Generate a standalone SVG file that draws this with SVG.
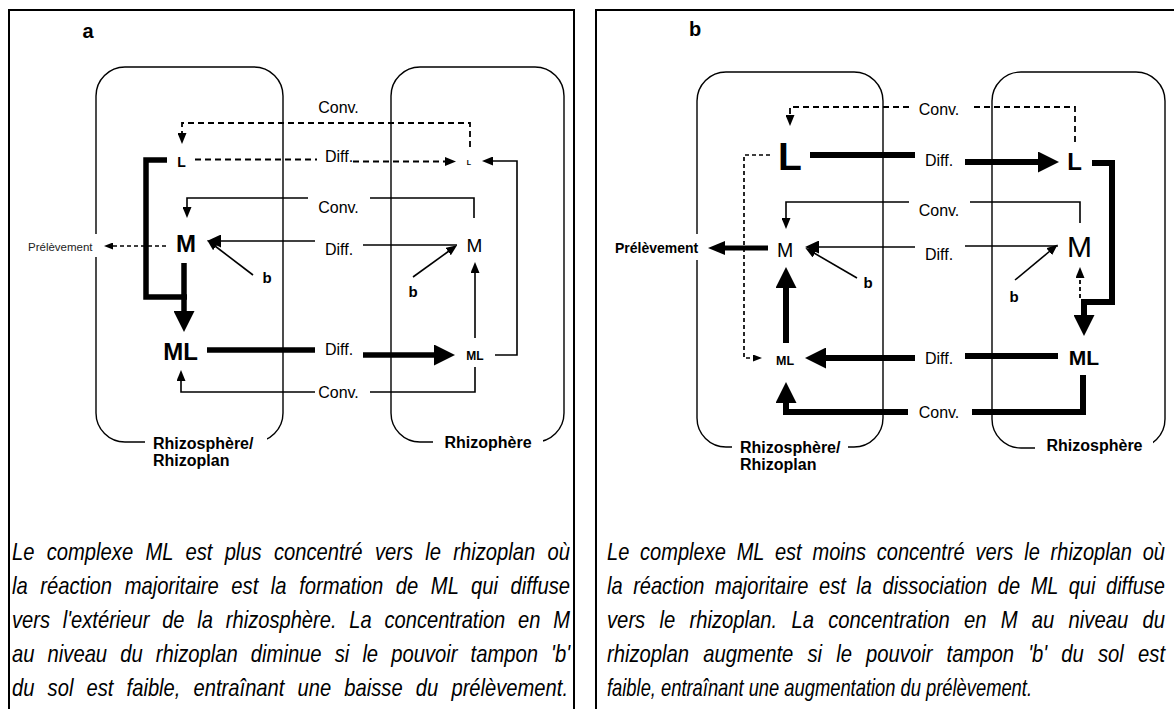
<svg xmlns="http://www.w3.org/2000/svg" width="1174" height="709" viewBox="0 0 1174 709">
<style>
text{font-family:"Liberation Sans",Arial,sans-serif;fill:#000}
.frame{fill:none;stroke:#000;stroke-width:2}
.zone{fill:none;stroke:#000;stroke-width:1.4}
.thin{fill:none;stroke:#000;stroke-width:1.6}
.dash{fill:none;stroke:#000;stroke-width:1.8;stroke-dasharray:6 4}
.dash2{fill:none;stroke:#000;stroke-width:1.7;stroke-dasharray:4 3}
.thick{fill:none;stroke:#000;stroke-width:5.5;stroke-linejoin:miter}
.lbl{font-size:16px}
.zl{font-size:16px;font-weight:bold}
.pl{font-size:20px;font-weight:bold}
.bb{font-size:15px;font-weight:bold}
.body{font-family:"Liberation Sans Narrow","Liberation Sans",Arial,sans-serif;font-style:italic;font-size:24px}
.mask{fill:#fff}
.n{text-anchor:middle}
.nb{text-anchor:middle;font-weight:bold}
</style>
<defs>
<marker id="s" markerUnits="userSpaceOnUse" markerWidth="11" markerHeight="9" refX="1" refY="4.5" orient="auto"><path d="M0,0L11,4.5L0,9z"/></marker>
<marker id="sm" markerUnits="userSpaceOnUse" markerWidth="9" markerHeight="7" refX="1" refY="3.5" orient="auto"><path d="M0,0L9,3.5L0,7z"/></marker>
<marker id="m" markerUnits="userSpaceOnUse" markerWidth="14" markerHeight="13" refX="1" refY="6.5" orient="auto"><path d="M0,0L14,6.5L0,13z"/></marker>
<marker id="p" markerUnits="userSpaceOnUse" markerWidth="17" markerHeight="14" refX="1" refY="7" orient="auto"><path d="M0,0L17,7L0,14z"/></marker>
<marker id="l" markerUnits="userSpaceOnUse" markerWidth="21" markerHeight="21" refX="1" refY="10.5" orient="auto"><path d="M0,0L21,10.5L0,21z"/></marker>
</defs>

<g id="panels">
<rect class="frame" x="9" y="10" width="565" height="720"/>
<rect class="frame" x="596" y="10" width="590" height="720"/>
<text class="pl" x="88" y="38" text-anchor="middle">a</text>
<text class="pl" x="695" y="36" text-anchor="middle">b</text>
</g>

<g id="zone-a-rhizoplan">
<rect class="zone" x="96" y="67" width="187" height="375" rx="29" ry="29"/>
<rect class="mask" x="145" y="434" width="122" height="16"/>
<text class="zl" x="153" y="449">Rhizosphère/</text>
<text class="zl" x="153" y="466">Rhizoplan</text>
</g>
<g id="zone-a-rhizosphere">
<rect class="zone" x="391" y="67" width="173" height="375" rx="29" ry="29"/>
<rect class="mask" x="433" y="434" width="110" height="16"/>
<text class="zl" x="488" y="448" text-anchor="middle">Rhizophère</text>
</g>
<g id="zone-b-rhizoplan">
<rect class="zone" x="697" y="72" width="186" height="375" rx="29" ry="29"/>
<rect class="mask" x="732" y="439" width="116" height="16"/>
<text class="zl" x="740" y="453">Rhizosphère/</text>
<text class="zl" x="740" y="470">Rhizoplan</text>
</g>
<g id="zone-b-rhizosphere">
<rect class="zone" x="992" y="72" width="173" height="376" rx="29" ry="29"/>
<rect class="mask" x="1035" y="440" width="118" height="16"/>
<text class="zl" x="1094.5" y="451" text-anchor="middle">Rhizosphère</text>
</g>

<g id="connectors">
<!-- panel a -->
<path class="dash" d="M470,147V123H182V134" marker-end="url(#s)"/>
<text class="lbl n" x="338.5" y="113">Conv.</text>
<path class="dash" d="M195,159.5H317"/>
<path class="dash" d="M353,161.5H446" marker-end="url(#s)"/>
<text class="lbl n" x="339" y="162">Diff.</text>
<path class="thin" d="M495,355H517V161H492" marker-end="url(#s)"/>
<path class="thin" d="M474,218V198H370"/>
<path class="thin" d="M308,198H187V208" marker-end="url(#s)"/>
<text class="lbl n" x="338.5" y="213">Conv.</text>
<path class="thin" d="M457,245H363"/>
<path class="thin" d="M315,241H220" marker-end="url(#m)"/>
<text class="lbl n" x="339" y="255">Diff.</text>
<path class="thin" d="M253,275L215,246" marker-end="url(#s)"/>
<path class="thin" d="M413,277L449,251" marker-end="url(#s)"/>
<path class="dash2" style="stroke-width:1.4" d="M166,246H112" marker-end="url(#sm)"/>
<rect class="mask" x="24" y="234" width="74" height="23"/>
<text x="28" y="251" style="font-size:11.5px;fill:#222">Prélèvement</text>
<path class="thick" d="M167,160H146V297H187"/>
<path class="thick" d="M184,263V312" marker-end="url(#l)"/>
<path class="thick" d="M207,350H315"/>
<path class="thick" d="M363,355H435" marker-end="url(#l)"/>
<text class="lbl n" x="339" y="355">Diff.</text>
<path class="thin" d="M475,367V392H370"/>
<path class="thin" d="M315,392H181V380" marker-end="url(#s)"/>
<text class="lbl n" x="338.5" y="398">Conv.</text>
<path class="thin" d="M475,338V272" marker-end="url(#s)"/>
<text class="bb n" x="267" y="283">b</text>
<text class="bb n" x="413" y="297">b</text>

<!-- panel b -->
<path class="dash" d="M1075,142V107H970"/>
<path class="dash" d="M909,107H790V116" marker-end="url(#s)"/>
<text class="lbl n" x="939" y="115">Conv.</text>
<path class="thick" style="stroke-width:6" d="M810,155H915"/>
<path class="thick" style="stroke-width:6" d="M965,162H1039" marker-end="url(#l)"/>
<text class="lbl n" x="939" y="166">Diff.</text>
<path class="dash2" d="M770,155H744V358H754" marker-end="url(#sm)"/>
<path class="thick" style="stroke-width:6" d="M1092,163H1112V302H1084V316" marker-end="url(#l)"/>
<path class="dash2" style="stroke-width:1.8" d="M1080,298V277" marker-end="url(#s)"/>
<path class="thin" d="M1080,223V202H970"/>
<path class="thin" d="M909,202H786V219" marker-end="url(#s)"/>
<text class="lbl n" x="939" y="216">Conv.</text>
<path class="thin" d="M1058,246H965"/>
<path class="thin" d="M915,247H818" marker-end="url(#m)"/>
<text class="lbl n" x="939" y="260">Diff.</text>
<path class="thin" d="M857,278L814,253" marker-end="url(#s)"/>
<path class="thin" d="M1015,280L1050,251" marker-end="url(#s)"/>
<path class="thick" style="stroke-width:5" d="M768,248H724" marker-end="url(#p)"/>
<rect class="mask" x="610" y="234" width="89" height="26"/>
<text x="615" y="253" style="font-size:14px;font-weight:bold">Prélèvement</text>
<path class="thick" style="stroke-width:6" d="M786,343V287" marker-end="url(#l)"/>
<path class="thick" style="stroke-width:6" d="M1058,356H965"/>
<path class="thick" style="stroke-width:6" d="M915,358H825" marker-end="url(#l)"/>
<text class="lbl n" x="939" y="364">Diff.</text>
<path class="thick" style="stroke-width:6" d="M1083,375V412H972"/>
<path class="thick" style="stroke-width:6" d="M908,412H786V402" marker-end="url(#l)"/>
<text class="lbl n" x="939" y="418">Conv.</text>
<text class="bb n" x="868" y="288">b</text>
<text class="bb n" x="1014" y="302">b</text>
</g>

<g id="node-a-L-rhizoplan"><text class="nb" x="181.5" y="167" style="font-size:14px">L</text></g>
<g id="node-a-L-rhizosphere"><text class="nb" x="469" y="165" style="font-size:7px">L</text></g>
<g id="node-a-M-rhizoplan"><text class="nb" x="186" y="252" style="font-size:24px">M</text></g>
<g id="node-a-M-rhizosphere"><text class="n" x="474.5" y="252" style="font-size:19px">M</text></g>
<g id="node-a-ML-rhizoplan"><text class="nb" x="180.5" y="360" style="font-size:24px">ML</text></g>
<g id="node-a-ML-rhizosphere"><text class="nb" x="475" y="360" style="font-size:12px">ML</text></g>

<g id="node-b-L-rhizoplan"><text class="nb" x="790" y="170" style="font-size:39px">L</text></g>
<g id="node-b-L-rhizosphere"><text class="nb" x="1074.5" y="170" style="font-size:24px">L</text></g>
<g id="node-b-M-rhizoplan"><text class="n" x="785" y="257" style="font-size:19.5px">M</text></g>
<g id="node-b-M-rhizosphere"><text class="n" x="1079.5" y="257" style="font-size:30px">M</text></g>
<g id="node-b-ML-rhizoplan"><text class="nb" x="785" y="365" style="font-size:12.5px">ML</text></g>
<g id="node-b-ML-rhizosphere"><text class="nb" x="1084" y="365" style="font-size:21px">ML</text></g>

<g id="caption-a" class="body">
<text class="body" x="12" y="560" textLength="558" lengthAdjust="spacingAndGlyphs" word-spacing="8">Le complexe ML est plus concentré vers le rhizoplan où</text>
<text class="body" x="12" y="594" textLength="558" lengthAdjust="spacingAndGlyphs" word-spacing="8.3">la réaction majoritaire est la formation de ML qui diffuse</text>
<text class="body" x="12" y="628" textLength="558" lengthAdjust="spacingAndGlyphs" word-spacing="8.6">vers l'extérieur de la rhizosphère. La concentration en M</text>
<text class="body" x="12" y="662" textLength="558" lengthAdjust="spacingAndGlyphs" word-spacing="8.9">au niveau du rhizoplan diminue si le pouvoir tampon 'b'</text>
<text class="body" x="12" y="696" textLength="556" lengthAdjust="spacingAndGlyphs" word-spacing="9">du sol est faible, entraînant une baisse du prélèvement.</text>
</g>
<g id="caption-b" class="body">
<text class="body" x="607" y="560" textLength="558" lengthAdjust="spacingAndGlyphs" word-spacing="6.3">Le complexe ML est moins concentré vers le rhizoplan où</text>
<text class="body" x="607" y="594" textLength="558" lengthAdjust="spacingAndGlyphs" word-spacing="6.1">la réaction majoritaire est la dissociation de ML qui diffuse</text>
<text class="body" x="607" y="628" textLength="558" lengthAdjust="spacingAndGlyphs" word-spacing="10.2">vers le rhizoplan. La concentration en M au niveau du</text>
<text class="body" x="607" y="662" textLength="558" lengthAdjust="spacingAndGlyphs" word-spacing="10.1">rhizoplan augmente si le pouvoir tampon 'b' du sol est</text>
<text class="body" x="607" y="696" textLength="425" lengthAdjust="spacingAndGlyphs">faible, entraînant une augmentation du prélèvement.</text>
</g>
</svg>
